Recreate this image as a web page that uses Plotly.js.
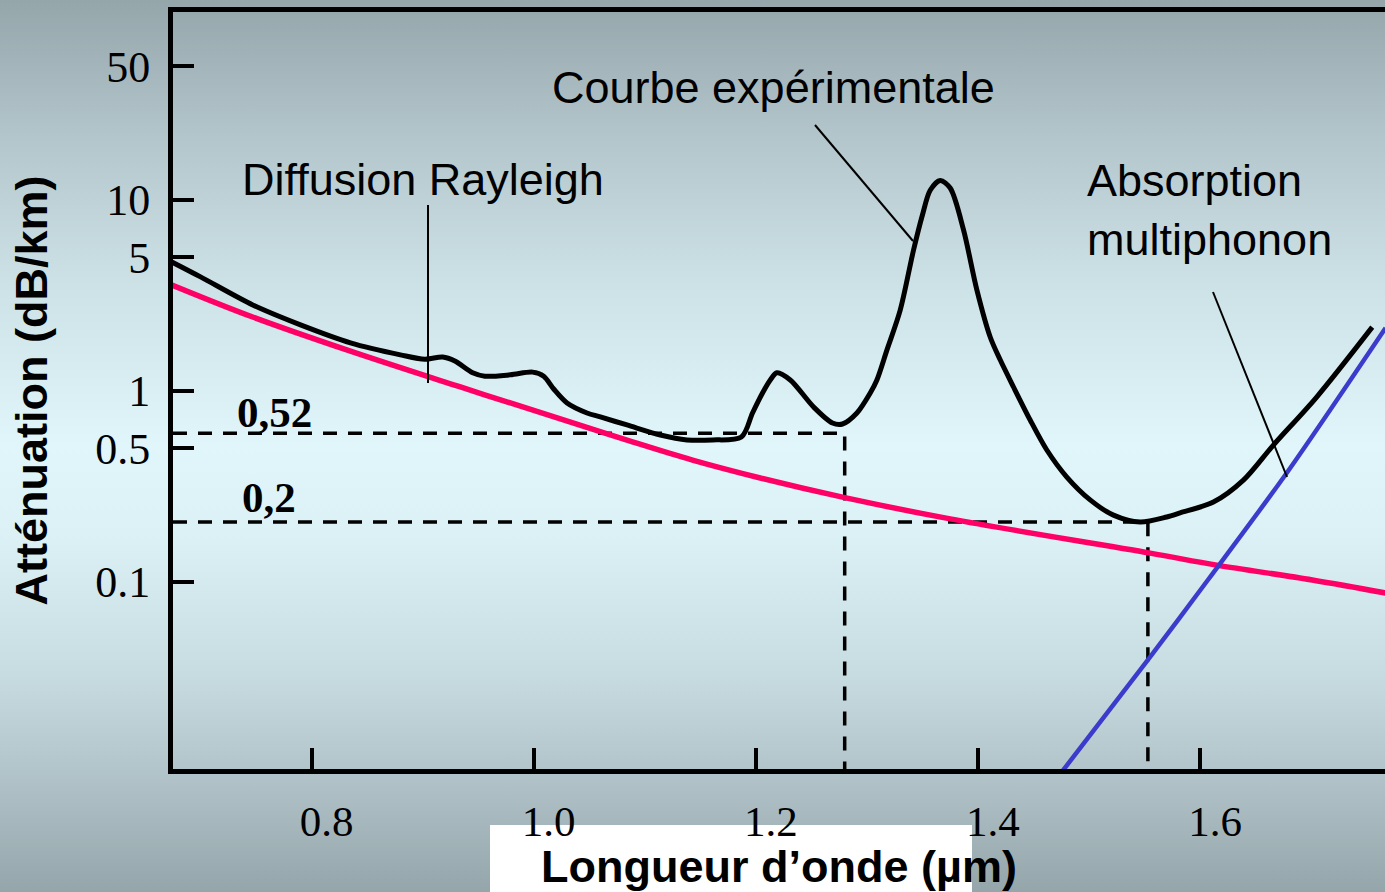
<!DOCTYPE html>
<html>
<head>
<meta charset="utf-8">
<script src="https://cdn.plot.ly/plotly-3.0.1.min.js"></script>
<style>
  html, body { margin: 0; padding: 0; width: 1385px; height: 892px; overflow: hidden; }
  body {
    background: linear-gradient(to bottom,
      #95a6ab 0%, #b2c5ca 15%, #cde2e7 32%, #e0f6fb 50%, #dbf1f6 60%, #c8dde2 75%, #afc1c6 88%, #95a6ab 100%);
  }
  #chart { width: 1385px; height: 892px; }
</style>
</head>
<body>
<div id="chart"></div>
<script>
// ---- Data ----
// Experimental attenuation curve ("Courbe expérimentale")
const wavelengthExp = [0.674, 0.700, 0.747, 0.790, 0.835, 0.880, 0.902, 0.918, 0.929, 0.945, 0.956, 0.979, 0.999, 1.009, 1.018, 1.030, 1.048, 1.060, 1.084, 1.114, 1.138, 1.161, 1.187, 1.197, 1.206, 1.213, 1.219, 1.231, 1.252, 1.269, 1.278, 1.291, 1.303, 1.309, 1.318, 1.330, 1.342, 1.350, 1.357, 1.366, 1.375, 1.387, 1.399, 1.411, 1.420, 1.432, 1.447, 1.462, 1.480, 1.501, 1.522, 1.546, 1.570, 1.582, 1.612, 1.639, 1.666, 1.705, 1.755];
const attenExp = [4.72, 3.94, 2.81, 2.21, 1.78, 1.54, 1.46, 1.50, 1.43, 1.24, 1.19, 1.21, 1.25, 1.19, 1.02, 0.862, 0.764, 0.728, 0.661, 0.586, 0.552, 0.552, 0.572, 0.764, 0.972, 1.137, 1.24, 1.137, 0.821, 0.677, 0.669, 0.764, 0.972, 1.137, 1.63, 2.64, 5.45, 8.31, 11.2, 12.6, 11.5, 6.94, 3.37, 1.91, 1.45, 1.045, 0.702, 0.489, 0.353, 0.268, 0.223, 0.205, 0.218, 0.229, 0.261, 0.340, 0.519, 0.926, 2.15];

// Rayleigh scattering ("Diffusion Rayleigh")
const wavelengthRay = [0.674, 0.747, 0.835, 0.934, 1.024, 1.084, 1.143, 1.204, 1.278, 1.375, 1.555, 1.615, 1.701, 1.767];
const attenRay = [3.58, 2.43, 1.61, 1.045, 0.711, 0.551, 0.433, 0.349, 0.277, 0.213, 0.141, 0.122, 0.102, 0.0872];

// Infrared multiphonon absorption ("Absorption multiphonon")
const wavelengthIR = [1.475, 1.553, 1.607, 1.678, 1.767];
const attenIR = [0.0100, 0.0389, 0.102, 0.3705, 2.13];

// Reference minima (dashed guides)
const refWavelength = [1.280, 1.553];
const refAtten = [0.598, 0.205];
const refLabels = ['0,52', '0,2'];

// Axes
const xTickVals = [0.8, 1.0, 1.2, 1.4, 1.6];
const xTickText = ['0.8', '1.0', '1.2', '1.4', '1.6'];
const yTickVals = [0.1, 0.5, 1, 5, 10, 50];
const yTickText = ['0.1', '0.5', '1', '5', '10', '50'];
const xRange = [0.6752, 1.7665];
const yRangeLog = [-1.981, 1.9825];

// ---- Layout helpers (pixel -> paper) ----
const W = 1385, H = 892;
const M = { l: 173, r: 0, t: 12, b: 123 };
const PW = W - M.l - M.r, PH = H - M.t - M.b;
const px = p => (p - M.l) / PW;
const py = p => (H - M.b - p) / PH;

const sans = 'Liberation Sans, Arial, sans-serif';
const serif = 'Liberation Serif, Times New Roman, serif';

const xMin = xRange[0];
const yMin = Math.pow(10, yRangeLog[0]);

const traces = [];
refWavelength.forEach((wl, i) => {
  traces.push({
    x: [xMin, wl, wl],
    y: [refAtten[i], refAtten[i], yMin],
    mode: 'lines',
    line: { color: '#000', width: 3.5, dash: '14px,11px' },
    hoverinfo: 'skip',
    showlegend: false
  });
});
traces.push({
  x: wavelengthRay, y: attenRay, mode: 'lines', name: 'Diffusion Rayleigh',
  line: { color: '#ff0066', width: 5.5, shape: 'spline', smoothing: 1 }, showlegend: false
});
traces.push({
  x: wavelengthIR, y: attenIR, mode: 'lines', name: 'Absorption multiphonon',
  line: { color: '#3b3bcc', width: 4.5, shape: 'spline', smoothing: 0.8 }, showlegend: false
});
traces.push({
  x: wavelengthExp, y: attenExp, mode: 'lines', name: 'Courbe expérimentale',
  line: { color: '#000', width: 5, shape: 'spline', smoothing: 0.85 }, showlegend: false
});

const annFont = { family: sans, size: 45, color: '#000' };
const refFont = { family: serif, size: 43, color: '#000', weight: 'bold' };

const layout = {
  width: W, height: H,
  margin: M,
  paper_bgcolor: 'rgba(0,0,0,0)',
  plot_bgcolor: 'rgba(0,0,0,0)',
  showlegend: false,
  xaxis: {
    range: xRange, type: 'linear',
    tickvals: xTickVals, ticktext: xTickText,
    ticks: 'inside', ticklen: 21, tickwidth: 4, tickcolor: '#000',
    showline: true, linewidth: 5, linecolor: '#000', mirror: true,
    showgrid: false, zeroline: false,
    tickfont: { family: serif, size: 43, color: '#000' },
    ticklabelshift: 15, ticklabelstandoff: 10,
    title: { text: 'Longueur d’onde (µm)', font: { family: sans, size: 45, color: '#000', weight: 'bold' }, standoff: 10 },
    automargin: false
  },
  yaxis: {
    type: 'log', range: yRangeLog,
    tickvals: yTickVals, ticktext: yTickText,
    ticks: 'inside', ticklen: 21, tickwidth: 4, tickcolor: '#000',
    showline: true, linewidth: 5, linecolor: '#000', mirror: false,
    showgrid: false, zeroline: false,
    tickfont: { family: serif, size: 44, color: '#000' },
    ticklabelstandoff: 9,
    title: { text: 'Atténuation (dB/km)', font: { family: sans, size: 45, color: '#000', weight: 'bold' }, standoff: 35 },
    automargin: false
  },
  shapes: [
    { type: 'rect', xref: 'paper', yref: 'paper', x0: px(490), x1: px(972), y0: py(892), y1: py(825),
      fillcolor: '#ffffff', line: { width: 0 }, layer: 'below' },
    { type: 'line', xref: 'paper', yref: 'paper', x0: px(428), y0: py(205), x1: px(428), y1: py(383),
      line: { color: '#000', width: 2 } },
    { type: 'line', xref: 'paper', yref: 'paper', x0: px(815), y0: py(125), x1: px(913), y1: py(241),
      line: { color: '#000', width: 2 } },
    { type: 'line', xref: 'paper', yref: 'paper', x0: px(1213), y0: py(292), x1: px(1287), y1: py(477),
      line: { color: '#000', width: 2 } }
  ],
  annotations: [
    { text: 'Diffusion Rayleigh', xref: 'paper', yref: 'paper', x: px(240), y: py(179),
      xanchor: 'left', yanchor: 'middle', showarrow: false, font: annFont },
    { text: 'Courbe expérimentale', xref: 'paper', yref: 'paper', x: px(550), y: py(87.5),
      xanchor: 'left', yanchor: 'middle', showarrow: false, font: annFont },
    { text: 'Absorption<br>multiphonon', xref: 'paper', yref: 'paper', x: px(1085), y: py(210),
      xanchor: 'left', yanchor: 'middle', align: 'left', showarrow: false, font: annFont },
    { text: refLabels[0], xref: 'paper', yref: 'paper', x: px(235), y: py(412.5),
      xanchor: 'left', yanchor: 'middle', showarrow: false, font: refFont },
    { text: refLabels[1], xref: 'paper', yref: 'paper', x: px(240), y: py(497.5),
      xanchor: 'left', yanchor: 'middle', showarrow: false, font: refFont }
  ]
};

Plotly.newPlot('chart', traces, layout, { displayModeBar: false, staticPlot: true });
</script>
</body>
</html>
